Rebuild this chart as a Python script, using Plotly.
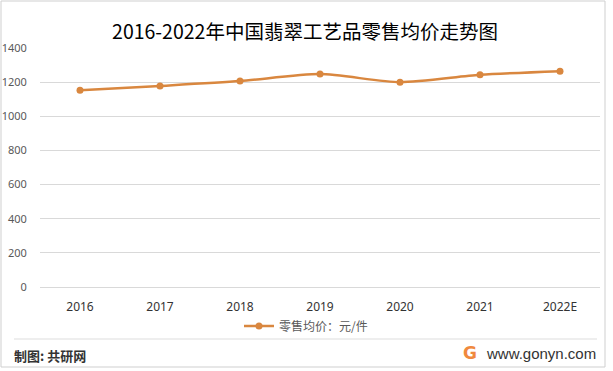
import plotly.graph_objects as go

years = ["2016", "2017", "2018", "2019", "2020", "2021", "2022E"]
price = [1153, 1178, 1206, 1247, 1200, 1243, 1264]
series_name = "零售均价：元/件"
title_text = "2016-2022年中国翡翠工艺品零售均价走势图"
y_ticks = [0, 200, 400, 600, 800, 1000, 1200, 1400]

W, H = 613, 371
L, R, T, B = 40, 13, 48, 84
PW, PH = W - L - R, H - T - B


def px(x):
    return (x - L) / PW


def py(y):
    return (H - B - y) / PH


color = "#D9873F"
cjk = "Noto Sans CJK SC"

fig = go.Figure()
fig.add_trace(go.Scatter(
    x=years, y=price, mode="lines+markers", name=series_name,
    line=dict(color=color, width=2.5, shape="spline", smoothing=0.7),
    marker=dict(color=color, size=7),
))

fig.update_layout(
    width=W, height=H,
    margin=dict(l=L, r=R, t=T, b=B, autoexpand=False),
    paper_bgcolor="white", plot_bgcolor="white",
    title=dict(text=title_text, x=305 / W, xanchor="center", xref="container",
               y=1 - 32 / H, yanchor="middle", yref="container",
               font=dict(family=cjk, size=19.5, color="#000000")),
    font=dict(family=cjk, color="#595959", size=11),
    showlegend=True,
    legend=dict(orientation="h", x=px(306), xanchor="center",
                y=py(326), yanchor="middle",
                font=dict(family=cjk, size=12, color="#595959"),
                bgcolor="rgba(0,0,0,0)"),
    xaxis=dict(type="category", range=[-0.5, len(years) - 0.5],
               showgrid=False, showline=False, zeroline=False,
               automargin=False, ticks="outside", ticklen=9,
               tickcolor="rgba(0,0,0,0)",
               tickfont=dict(family="Noto Sans", size=12, color="#333333")),
    yaxis=dict(range=[0, 1400], tickvals=y_ticks, showgrid=True,
               gridcolor="#D9D9D9", gridwidth=1, zeroline=True,
               zerolinecolor="#D9D9D9", zerolinewidth=1, showline=False,
               automargin=False, ticks="outside", ticklen=10,
               tickcolor="rgba(0,0,0,0)",
               tickfont=dict(family="Noto Sans", size=11, color="#595959")),
)

# outer border
fig.add_shape(type="rect", xref="paper", yref="paper",
              x0=px(1), x1=px(605), y0=py(367), y1=py(1),
              line=dict(color="#CFCFCF", width=1), fillcolor="rgba(0,0,0,0)")
# separator
fig.add_shape(type="line", xref="paper", yref="paper",
              x0=px(14), x1=px(597), y0=py(339), y1=py(339),
              line=dict(color="#DDDDDD", width=1))

fig.add_annotation(text="<b>制图: 共研网</b>", xref="paper", yref="paper",
                   x=px(12), y=py(355), xanchor="left", yanchor="middle",
                   showarrow=False, font=dict(family=cjk, size=13, color="#333333"))
fig.add_annotation(text="www.gonyn.com", xref="paper", yref="paper",
                   x=px(598), y=py(353), xanchor="right", yanchor="middle",
                   showarrow=False, font=dict(family="Liberation Sans", size=15, color="#333333"))
fig.add_annotation(text="<b>G</b>", xref="paper", yref="paper",
                   x=px(470), y=py(353), xanchor="center", yanchor="middle",
                   showarrow=False, font=dict(family="DejaVu Sans", size=17, color="#F0893E"))

fig.write_html("out.html", config={"displayModeBar": False},
               post_script="document.body.style.margin='0';document.body.style.padding='0';")
